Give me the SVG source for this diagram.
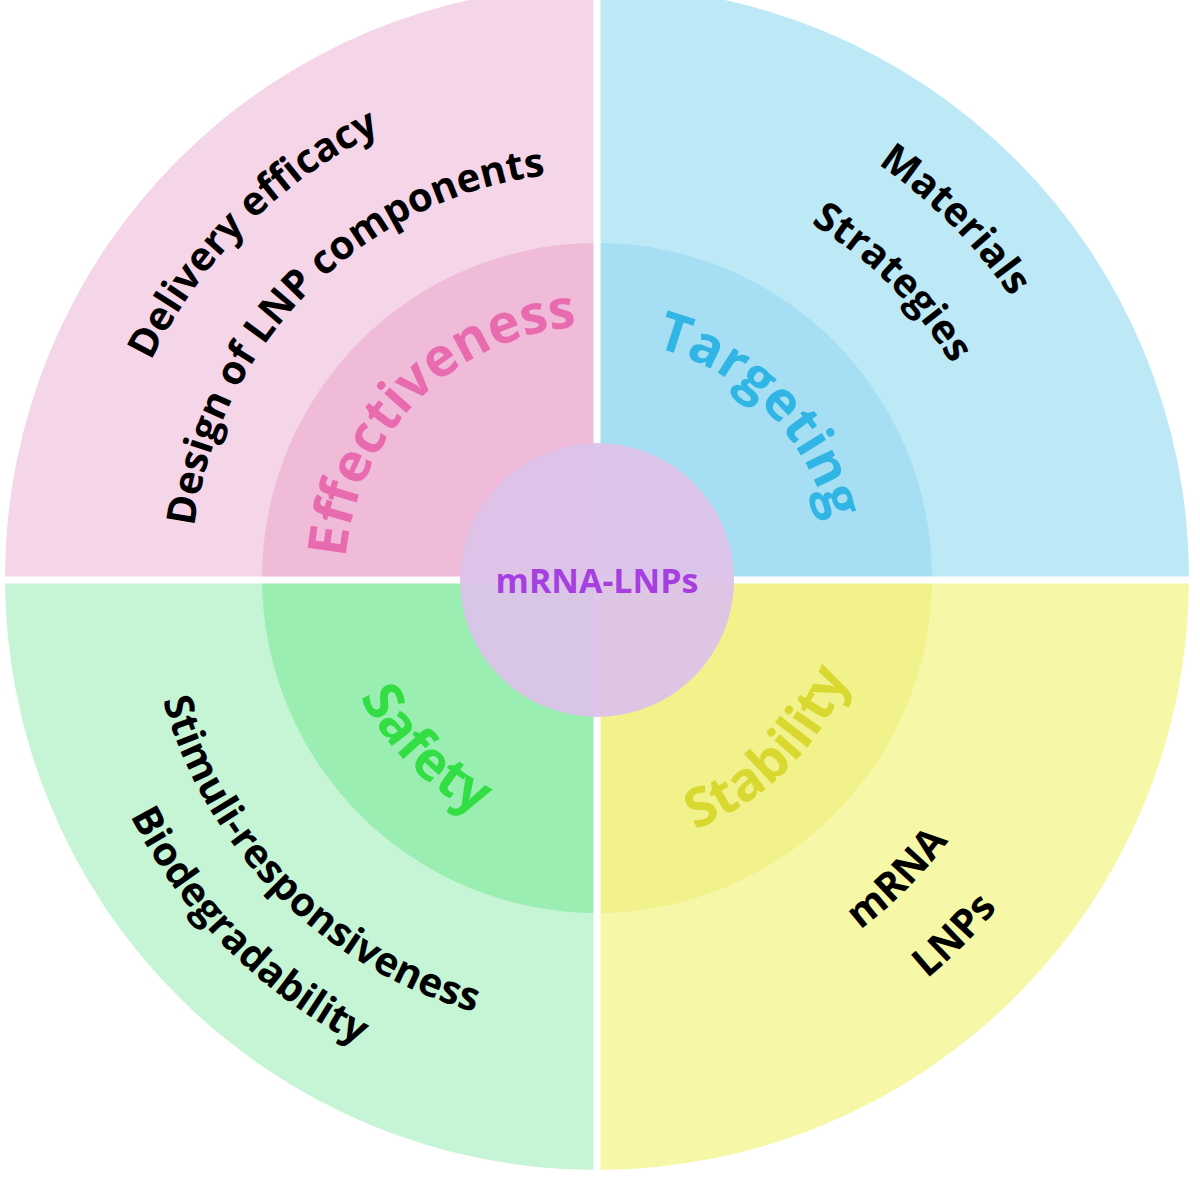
<svg xmlns="http://www.w3.org/2000/svg" xmlns:xlink="http://www.w3.org/1999/xlink" width="1200" height="1191" viewBox="0 0 1200 1191">
<style>
text{font-family:"Open Sans","Liberation Sans",sans-serif;font-weight:bold;text-anchor:middle}
.o{font-size:40px;fill:#000}
.m{font-size:54px}
</style>
<defs>
<path id="tl496" d="M101,578 A496,496 0 0 1 597,82"/>
<path id="tl406" d="M191,578 A406,406 0 0 1 597,172"/>
<path id="tl252" d="M345,578 A252,252 0 0 1 597,326"/>
<path id="tr500" d="M597,78 A500,500 0 0 1 1097,578"/>
<path id="tr414" d="M597,164 A414,414 0 0 1 1011,578"/>
<path id="tr238" d="M597,340 A238,238 0 0 1 835,578"/>
<path id="bl451" d="M146,578 A451,451 0 0 0 597,1029"/>
<path id="bl524" d="M73,578 A524,524 0 0 0 597,1102"/>
<path id="bl265" d="M332,578 A265,265 0 0 0 597,843"/>
<path id="br270" d="M597,848 A270,270 0 0 0 867,578"/>
<path id="br439" d="M597,1017 A439,439 0 0 0 1036,578"/>
<path id="br519" d="M597,1097 A519,519 0 0 0 1116,578"/>
</defs>
<rect width="1200" height="1191" fill="#fff"/>
<g id="quadrants">
<path d="M597,578 L5,578 A592,592 0 0 1 597,-14 Z" fill="#f5d5e8"/>
<path d="M597,578 L597,-14 A592,592 0 0 1 1189,578 Z" fill="#bde9f7"/>
<path d="M597,578 L5,578 A592,592 0 0 0 597,1170 Z" fill="#c6f5d6"/>
<path d="M597,578 L1189,578 A592,592 0 0 1 597,1170 Z" fill="#f7f7a8"/>
<path d="M597,578 L262,578 A335,335 0 0 1 597,243 Z" fill="#efbbd9"/>
<path d="M597,578 L597,243 A335,335 0 0 1 932,578 Z" fill="#a6def3"/>
<path d="M597,578 L262,578 A335,335 0 0 0 597,913 Z" fill="#9aeeb1"/>
<path d="M597,578 L932,578 A335,335 0 0 1 597,913 Z" fill="#f2f28c"/>
</g>
<g id="gaps" stroke="#fff" stroke-width="7">
<line x1="597" y1="0" x2="597" y2="1191"/>
<line x1="0" y1="580" x2="1200" y2="580"/>
</g>
<g id="center">
<circle cx="597" cy="580" r="137" fill="#dcc2e8" opacity="0.95"/>
<text x="597" y="593" font-size="34" fill="#a63fe0">mRNA-LNPs</text>
</g>
<g id="labels">
<text class="o"><textPath xlink:href="#tl496" startOffset="50%">Delivery  efficacy</textPath></text>
<text class="o"><textPath xlink:href="#tl406" startOffset="50%">Design of LNP components</textPath></text>
<text class="m" fill="#e86aaf"><textPath xlink:href="#tl252" startOffset="50%">Effectiveness</textPath></text>
<text class="o"><textPath xlink:href="#tr500" startOffset="50%">Materials</textPath></text>
<text class="o"><textPath xlink:href="#tr414" startOffset="50%">Strategies</textPath></text>
<text class="m" fill="#30b5e5"><textPath xlink:href="#tr238" startOffset="50%">Targeting</textPath></text>
<text class="o"><textPath xlink:href="#bl451" startOffset="50%">Stimuli-responsiveness</textPath></text>
<text class="o"><textPath xlink:href="#bl524" startOffset="50%">Biodegradability</textPath></text>
<text class="m" fill="#33dd44"><textPath xlink:href="#bl265" startOffset="50%">Safety</textPath></text>
<text class="m" fill="#d8d830"><textPath xlink:href="#br270" startOffset="50%">Stability</textPath></text>
<text class="o"><textPath xlink:href="#br439" startOffset="50%">mRNA</textPath></text>
<text class="o"><textPath xlink:href="#br519" startOffset="50%">LNPs</textPath></text>
</g>
</svg>
